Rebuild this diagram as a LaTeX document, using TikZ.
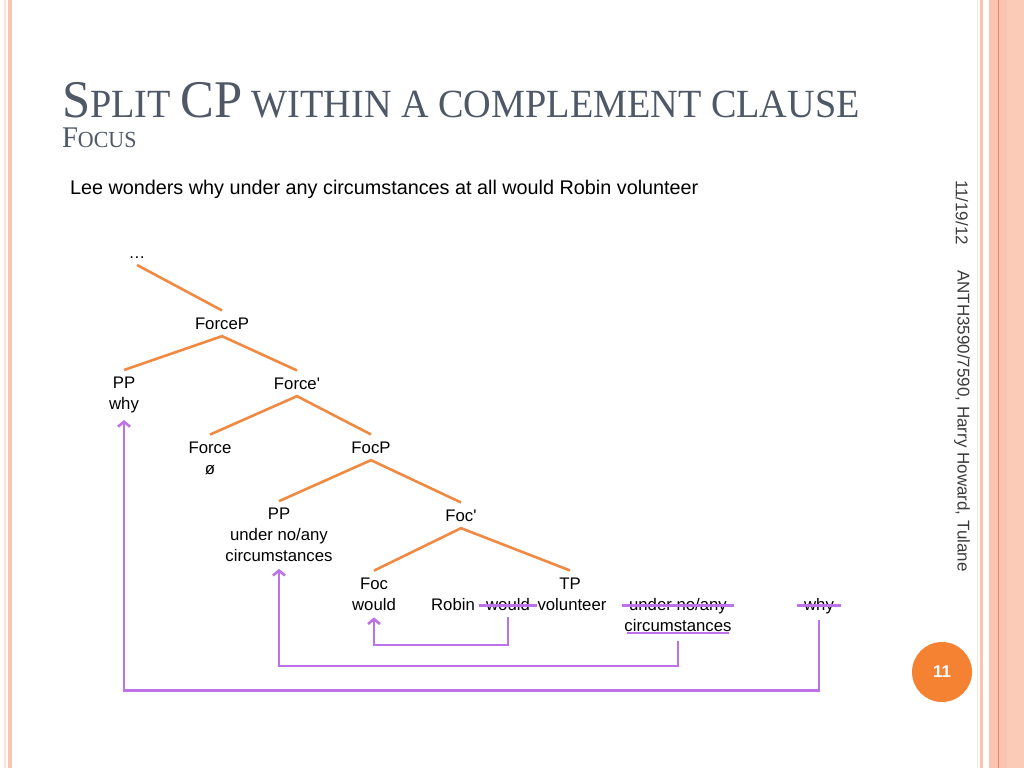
\documentclass[tikz,border=0pt]{standalone}
\usepackage{fontspec}
\newfontfamily\arialfont{Liberation Sans}
\newfontfamily\titlefont{Liberation Serif}
\newcommand\capbig[1]{{\fontsize{53}{58}\selectfont #1}}
\newcommand\capmid[1]{{\fontsize{30}{34}\selectfont #1}}
\usetikzlibrary{arrows.meta}
\definecolor{Slate}{HTML}{4F5867}
\definecolor{Tangerine}{HTML}{F08A42}
\definecolor{Violet}{HTML}{BD72EA}
\definecolor{Blush}{HTML}{FAC4B1}
\definecolor{Peach}{HTML}{FCCBB8}
\definecolor{Rust}{HTML}{E0875F}
\definecolor{Pale}{HTML}{FCE3D8}
\definecolor{Badge}{HTML}{F58232}
\definecolor{Ink}{HTML}{3C3C3C}

\begin{document}
\begin{tikzpicture}[x=1pt,y=-1pt,
    every node/.style={align=center,inner sep=3pt,outer sep=4pt,font=\arialfont\fontsize{16.75}{21}\selectfont},
    word/.style={anchor=base},
    plain/.style={anchor=base west,inner sep=0pt,outer sep=0pt},
    branch/.style={Tangerine,line width=2.6pt},
    move/.style={Violet,line width=2.6pt},
    moveto/.style={move,-{Straight Barb[length=5pt,width=12pt,line width=2.6pt]}}]
  \useasboundingbox (0,0) rectangle (1024,768);
  % slide border
  \fill[Pale] (4.3,0) rectangle (5.7,768);
  \fill[Blush] (7.5,0) rectangle (11.5,768);
  \fill[Pale] (976.5,0) rectangle (977.8,768);
  \fill[Blush] (979.5,0) rectangle (983,768);
  \fill[Blush] (989,0) rectangle (1007,768);
  \fill[Peach] (1007,0) rectangle (1024,768);
  \draw[Rust,line width=1.2pt] (998.5,0) -- (998.5,768);

  % heading
  \node[plain,text=Slate,font=\titlefont\fontsize{40}{46}\selectfont] (title) at (62,117)
    {\scalebox{0.955}[1]{\capbig{S}PLIT \capbig{CP} WITHIN A COMPLEMENT CLAUSE}};
  \node[plain,text=Slate,font=\titlefont\fontsize{23}{27}\selectfont] (sub) at (62,147)
    {\scalebox{0.955}[1]{\capmid{F}OCUS}};
  \node[plain,font=\arialfont\fontsize{19.8}{24}\selectfont] (ex) at (70,194) {Lee wonders why under any circumstances at all would Robin volunteer};

  % tree
  \node[word] (top) at (137,258) {…};
  \node[word] (fp) at (222,329) {ForceP};
  \node (ppw) at (124,395) {PP\\why};
  \node[word] (fbar) at (297,389) {Force'};
  \node (frc) at (210,458) {Force\\ø};
  \node[word] (focp) at (371,453) {FocP};
  \node (ppc) at (279,535) {PP\\under no/any\\circumstances};
  \node[word] (focbar) at (461,521) {Foc'};
  \node (foc) at (374,594) {Foc\\would};
  \node[word] (tp) at (570,589) {TP};
  \node[word] (robin) at (453,610) {Robin};
  \node[word] (wld) at (508,610) {would};
  \node[word] (vol) at (572,610) {volunteer};
  \node[word] (und) at (678,610) {under no/any};
  \node[word] (circ) at (678,631) {circumstances};
  \node[word] (why) at (819,610) {why};

  \draw[branch] (top.south) -- (fp.north);
  \draw[branch] (ppw.north) -- (fp.south) -- (fbar.north);
  \draw[branch] (frc.north) -- (fbar.south) -- (focp.north);
  \draw[branch] (ppc.north) -- (focp.south) -- (focbar.north);
  \draw[branch] (foc.north) -- (focbar.south) -- (tp.north);

  % movement
  \draw[move] ([yshift=4.5pt]wld.base west) -- ([yshift=4.5pt]wld.base east);
  \draw[moveto] (wld.south) -- ++(0,28) -| (foc.south);
  \draw[move] ([yshift=4.5pt]und.base west) -- ([yshift=4.5pt]und.base east);
  \draw[move] ([xshift=10pt,yshift=-2pt]circ.base west) -- ([xshift=-10pt,yshift=-2pt]circ.base east);
  \draw[moveto] ([yshift=-3pt]circ.south) -- ++(0,25) -| (ppc.south);
  \draw[move] ([yshift=4.5pt]why.base west) -- ([yshift=4.5pt]why.base east);
  \draw[moveto] (why.south) -- ++(0,70) -| (ppw.south);

  % footer
  \node[rotate=-90,anchor=west,inner sep=0pt,outer sep=0pt,text=Ink,font=\arialfont\fontsize{17}{20}\selectfont] (date) at (962,180) {11/19/12};
  \node[rotate=-90,anchor=west,inner sep=0pt,outer sep=0pt,text=Ink,font=\arialfont\fontsize{17}{20}\selectfont] (course) at (962,270) {ANTH3590/7590, Harry Howard, Tulane};
  \node[circle,fill=Badge,minimum size=60pt,inner sep=0pt,text=white,font=\arialfont\bfseries\fontsize{17}{20}\selectfont] (num) at (942,672) {11};
\end{tikzpicture}
\end{document}
